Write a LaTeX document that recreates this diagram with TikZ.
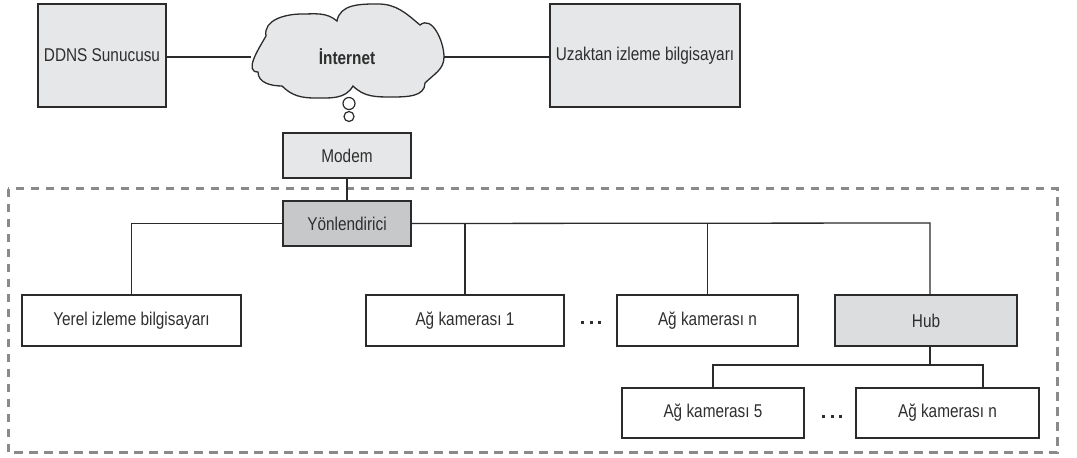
\documentclass[tikz,border=0pt]{standalone}
\usepackage{fontspec}
\setmainfont{Liberation Sans}[FakeStretch=0.83]
\definecolor{boxfill}{HTML}{E6E7E8}
\definecolor{routerfill}{HTML}{C7C8CA}
\definecolor{hubfill}{HTML}{DCDDDE}
\definecolor{linecol}{HTML}{2B2B2B}
\definecolor{dashcol}{HTML}{8A8A8A}
\definecolor{textcol}{HTML}{2E2E2E}
\tikzset{
  box/.style={draw=linecol, line width=1.5pt, inner sep=0pt, align=center,
    text=textcol, font=\fontsize{18.5}{21}\selectfont},
  wire/.style={draw=linecol, line width=1.3pt},
  dotsnode/.style={inner sep=0pt, text=textcol}
}
\newcommand{\threedots}{\rule{3pt}{3pt}\hspace{5.5pt}\rule{3pt}{3pt}\hspace{5.5pt}\rule{3pt}{3pt}}
\begin{document}
\begin{tikzpicture}[x=1pt,y=1pt]
\useasboundingbox (0,0) rectangle (1077,458);
% dashed enclosure
\draw[dashcol, line width=3pt, dash pattern=on 8.5pt off 6.5pt] (8,269) rectangle (1057,5);
% top row
\node[box, fill=boxfill, minimum width=128pt, minimum height=103pt] (ddns) at (102,402.5) {DDNS Sunucusu};
\node[box, fill=boxfill, minimum width=190pt, minimum height=103pt] (remote) at (645,402.5) {Uzaktan izleme bilgisayarı};
% cloud
\draw[linecol, line width=1.3pt, fill=boxfill]
  (258,386) to[out=180,in=240] (266,422)
  to[out=100,in=180] (302,444) to[out=0,in=140] (337,437)
  to[out=80,in=180] (378,454) to[out=0,in=140] (420,433)
  to[out=40,in=90] (444,401) to[out=270,in=45] (425,375)
  to[out=270,in=0] (392,361) to[out=180,in=315] (353,372)
  to[out=240,in=0] (315,360) to[out=180,in=315] (282,372)
  to[out=180,in=270] cycle;
\node[inner sep=0pt, text=textcol, font=\bfseries\fontsize{18.5}{21}\selectfont] (internet) at (347,401) {İnternet};
\coordinate (cloudL) at (251,401);
\coordinate (cloudR) at (444,401);
\node[circle, draw=linecol, line width=1.2pt, minimum size=12pt, inner sep=0pt] (bub1) at (349,354.5) {};
\node[circle, draw=linecol, line width=1.2pt, minimum size=10pt, inner sep=0pt] (bub2) at (349,341.5) {};
\draw[wire] (ddns.east |- cloudL) -- (cloudL);
\draw[wire] (cloudR) -- (remote.west |- cloudR);
% modem and router
\node[box, fill=boxfill, minimum width=128pt, minimum height=45pt] (modem) at (347,302.5) {Modem};
\node[box, fill=routerfill, minimum width=128pt, minimum height=45pt] (router) at (347,234.5) {Yönlendirici};
\draw[wire] (modem.south) -- (router.north);
% row of devices
\node[box, minimum width=219pt, minimum height=51pt] (local) at (131.5,137.5) {Yerel izleme bilgisayarı};
\node[box, minimum width=198pt, minimum height=51pt] (cam1) at (465,137.5) {Ağ kamerası 1};
\node[box, minimum width=181pt, minimum height=51pt] (camn) at (707.5,137.5) {Ağ kamerası n};
\node[box, fill=hubfill, minimum width=182pt, minimum height=51pt] (hub) at (926,137.5) {Hub};
\node[dotsnode] (dots1) at (591,135) {\threedots};
\coordinate (busR) at (930,235);
\draw[wire] (router.west) -| (local.north);
\draw[wire] (router.east) -- (busR) -- (busR |- hub.north);
\draw[wire] (cam1.north) -- (cam1.north |- busR);
\draw[wire] (camn.north) -- (camn.north |- busR);
% hub children
\node[box, minimum width=182pt, minimum height=50pt] (cam5) at (713,45) {Ağ kamerası 5};
\node[box, minimum width=183pt, minimum height=50pt] (camn2) at (947.5,45) {Ağ kamerası n};
\node[dotsnode] (dots2) at (832,41) {\threedots};
\coordinate (hubJ) at (930,93);
\coordinate (hubR) at (983,93);
\draw[wire] (busR |- hub.south) -- (hubJ);
\draw[wire] (cam5.north) |- (hubJ) -- (hubR) -- (hubR |- camn2.north);
\end{tikzpicture}
\end{document}
